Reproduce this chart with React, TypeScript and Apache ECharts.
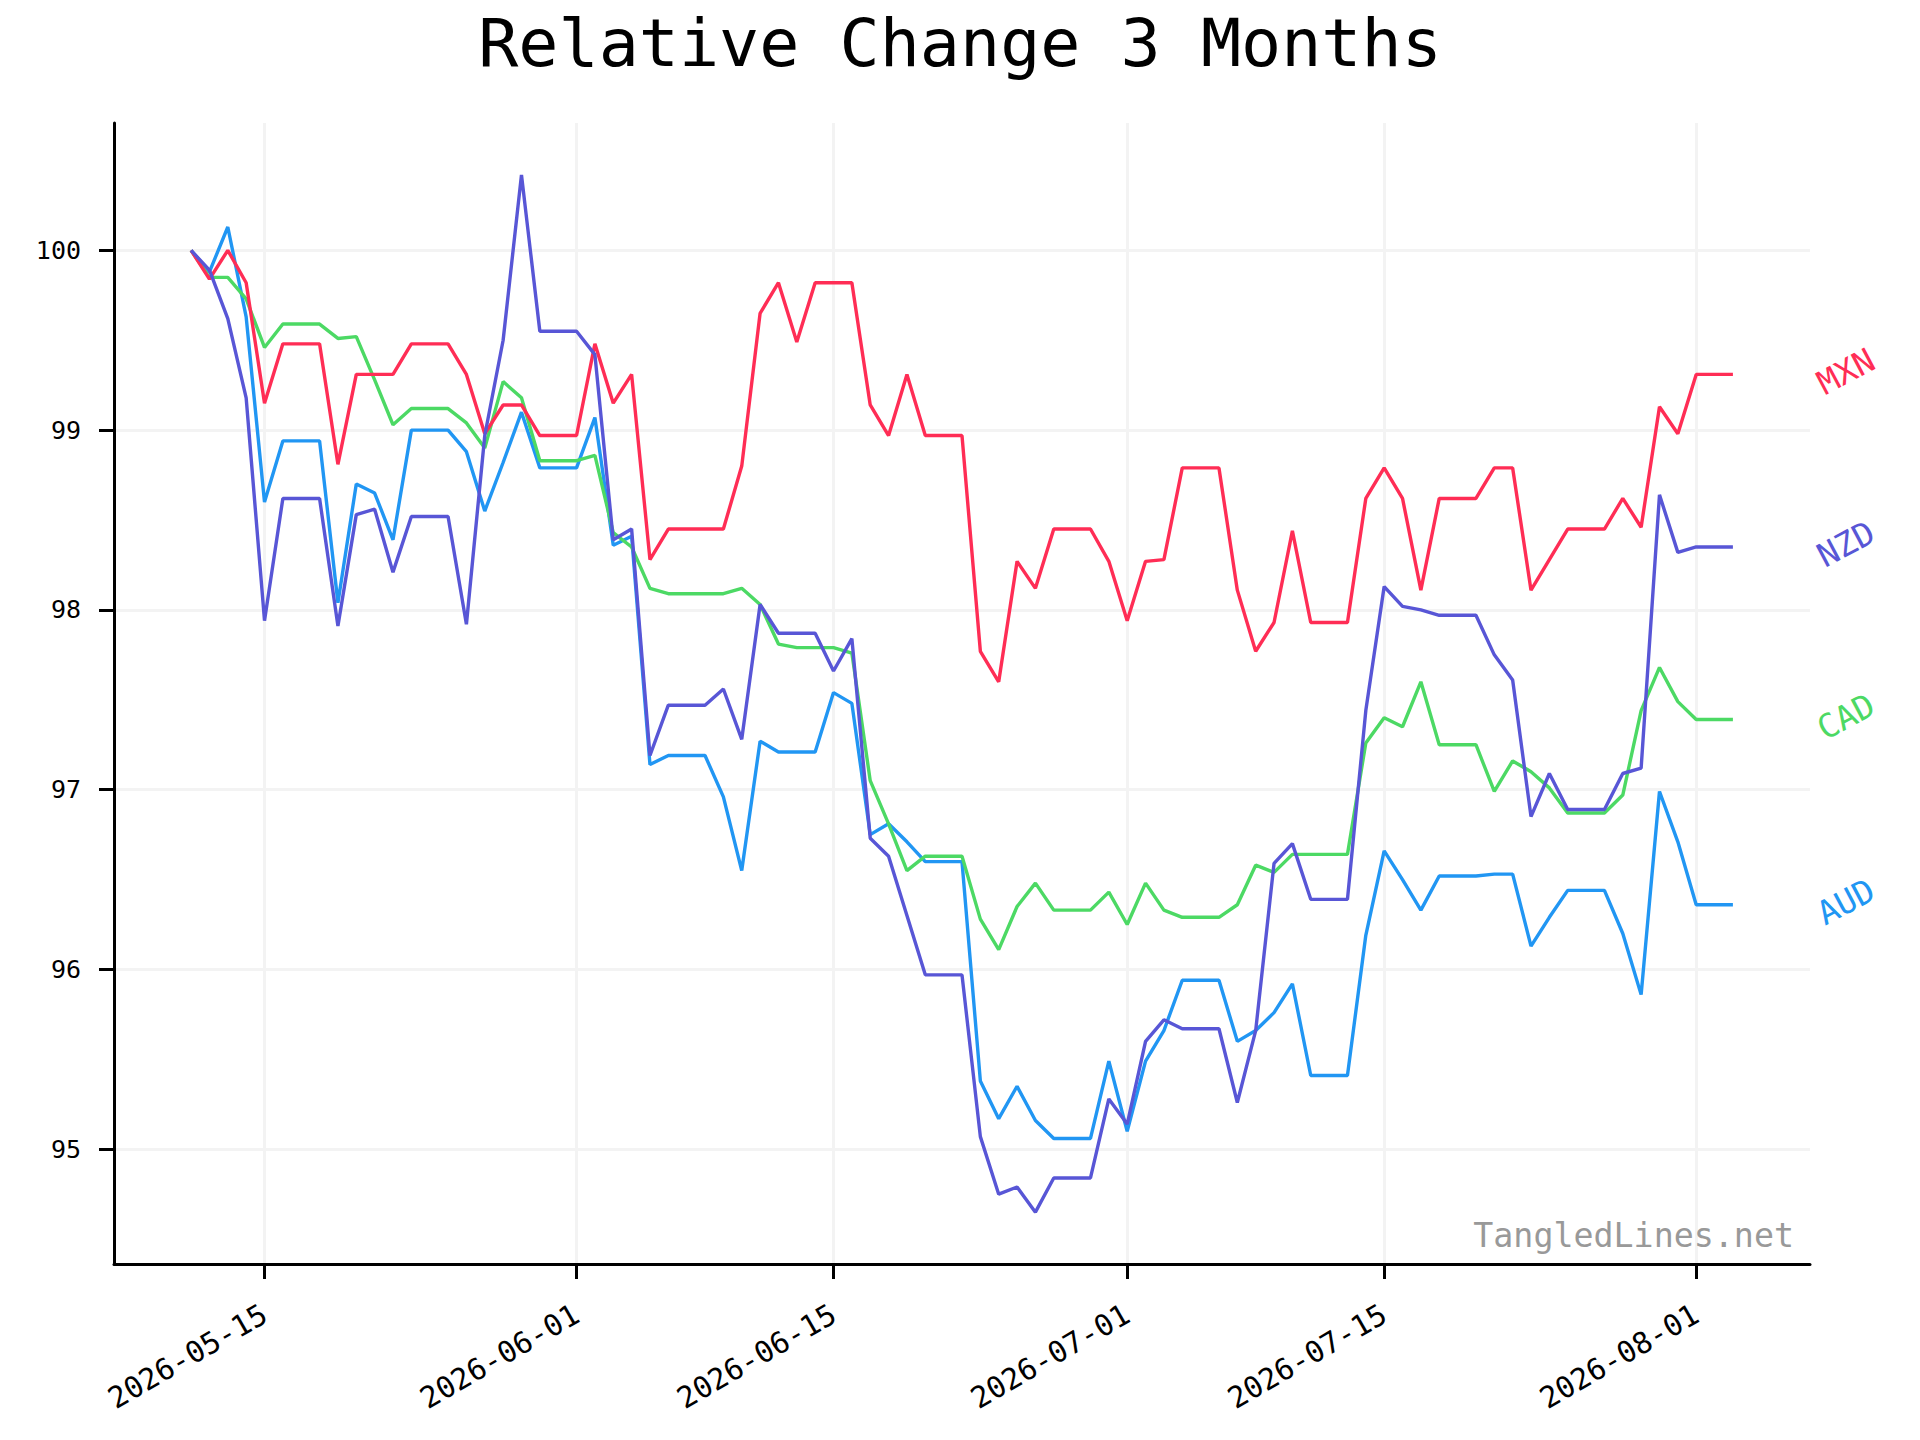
import React, { useEffect, useRef } from "react";
import * as echarts from "echarts";

// ---- data ----
const START_DATE = "2026-05-11";
const DAY_COUNT = 85;
const DAY_MS = 86400000;
const startMs = Date.parse(START_DATE + "T00:00:00Z");
const dates: string[] = Array.from({ length: DAY_COUNT }, (_, i) =>
  new Date(startMs + i * DAY_MS).toISOString().slice(0, 10)
);

const MXN = [
  100, 99.84, 100.0, 99.82, 99.15, 99.48, 99.48, 99.48, 98.81, 99.31,
  99.31, 99.31, 99.48, 99.48, 99.48, 99.31, 98.98, 99.14, 99.14, 98.97,
  98.97, 98.97, 99.48, 99.15, 99.31, 98.28, 98.45, 98.45, 98.45, 98.45,
  98.8, 99.65, 99.82, 99.49, 99.82, 99.82, 99.82, 99.14, 98.97, 99.31,
  98.97, 98.97, 98.97, 97.77, 97.6, 98.27, 98.12, 98.45, 98.45, 98.45,
  98.27, 97.94, 98.27, 98.28, 98.79, 98.79, 98.79, 98.11, 97.77, 97.93,
  98.44, 97.93, 97.93, 97.93, 98.62, 98.79, 98.62, 98.11, 98.62, 98.62,
  98.62, 98.79, 98.79, 98.11, 98.28, 98.45, 98.45, 98.45, 98.62, 98.46,
  99.13, 98.98, 99.31, 99.31, 99.31,
];
const NZD = [
  100, 99.89, 99.62, 99.18, 97.94, 98.62, 98.62, 98.62, 97.91, 98.53,
  98.56, 98.21, 98.52, 98.52, 98.52, 97.92, 98.97, 99.5, 100.42, 99.55,
  99.55, 99.55, 99.42, 98.39, 98.45, 97.19, 97.47, 97.47, 97.47, 97.56,
  97.28, 98.03, 97.87, 97.87, 97.87, 97.66, 97.84, 96.73, 96.63, 96.3,
  95.97, 95.97, 95.97, 95.07, 94.75, 94.79, 94.65, 94.84, 94.84, 94.84,
  95.28, 95.14, 95.6, 95.72, 95.67, 95.67, 95.67, 95.26, 95.66, 96.59,
  96.7, 96.39, 96.39, 96.39, 97.44, 98.13, 98.02, 98.0, 97.97, 97.97,
  97.97, 97.75, 97.61, 96.85, 97.09, 96.89, 96.89, 96.89, 97.09, 97.12,
  98.64, 98.32, 98.35, 98.35, 98.35,
];
const CAD = [
  100, 99.85, 99.85, 99.73, 99.46, 99.59, 99.59, 99.59, 99.51, 99.52,
  99.28, 99.03, 99.12, 99.12, 99.12, 99.04, 98.9, 99.27, 99.18, 98.83,
  98.83, 98.83, 98.86, 98.43, 98.35, 98.12, 98.09, 98.09, 98.09, 98.09,
  98.12, 98.03, 97.81, 97.79, 97.79, 97.79, 97.76, 97.05, 96.81, 96.55,
  96.63, 96.63, 96.63, 96.28, 96.11, 96.35, 96.48, 96.33, 96.33, 96.33,
  96.43, 96.25, 96.48, 96.33, 96.29, 96.29, 96.29, 96.36, 96.58, 96.54,
  96.64, 96.64, 96.64, 96.64, 97.26, 97.4, 97.35, 97.6, 97.25, 97.25,
  97.25, 96.99, 97.16, 97.1, 97.01, 96.87, 96.87, 96.87, 96.97, 97.44,
  97.68, 97.49, 97.39, 97.39, 97.39,
];
const AUD = [
  100, 99.88, 100.13, 99.63, 98.6, 98.94, 98.94, 98.94, 98.04, 98.7,
  98.65, 98.39, 99.0, 99.0, 99.0, 98.88, 98.55, 98.82, 99.1, 98.79,
  98.79, 98.79, 99.07, 98.36, 98.41, 97.14, 97.19, 97.19, 97.19, 96.96,
  96.55, 97.27, 97.21, 97.21, 97.21, 97.54, 97.48, 96.75, 96.81, 96.71,
  96.6, 96.6, 96.6, 95.38, 95.17, 95.35, 95.16, 95.06, 95.06, 95.06,
  95.49, 95.1, 95.49, 95.66, 95.94, 95.94, 95.94, 95.6, 95.66, 95.76,
  95.92, 95.41, 95.41, 95.41, 96.19, 96.66, 96.5, 96.33, 96.52, 96.52,
  96.52, 96.53, 96.53, 96.13, 96.29, 96.44, 96.44, 96.44, 96.2, 95.86,
  96.99, 96.71, 96.36, 96.36, 96.36,
];

const X_TICK_LABELS = ["2026-05-15", "2026-06-01", "2026-06-15", "2026-07-01", "2026-07-15", "2026-08-01"];
const Y_TICKS = [95, 96, 97, 98, 99, 100];

const SERIES = [
  { name: "AUD", data: AUD, color: "#2196F3" },
  { name: "CAD", data: CAD, color: "#4CD964" },
  { name: "MXN", data: MXN, color: "#FF2D55" },
  { name: "NZD", data: NZD, color: "#5856D6" },
];

const TITLE = "Relative Change 3 Months";
const WATERMARK = "TangledLines.net";

const FONT = "'DejaVu Sans Mono', monospace";

const toMs = (d: string) => Date.parse(d + "T00:00:00Z");
const fmt = (v: number) => new Date(v).toISOString().slice(0, 10);

export default function App() {
  const ref = useRef<HTMLDivElement>(null);

  useEffect(() => {
    document.body.style.margin = "0";
    if (!ref.current) return;
    const chart = echarts.init(ref.current, null, { renderer: "svg" });

    const xs = dates.map(toMs);
    const x0 = xs[0];
    const x1 = xs[xs.length - 1];
    const xPad = (x1 - x0) * 0.05;
    const all = SERIES.flatMap((s) => s.data);
    const yLo = Math.min(...all);
    const yHi = Math.max(...all);
    const yPad = (yHi - yLo) * 0.05;

    const gridLeft = 114;
    const gridTop = 123;
    const gridW = 1696;
    const gridH = 1141;

    const option: any = {
      animation: false,
      backgroundColor: "#ffffff",
      title: {
        text: TITLE,
        left: "center",
        top: 4,
        textStyle: { fontFamily: FONT, fontSize: 66.7, fontWeight: "normal", color: "#000" },
      },
      grid: {
        left: gridLeft,
        top: gridTop,
        width: gridW,
        height: gridH,
        containLabel: false,
        outerBoundsMode: "none",
      },
      xAxis: {
        type: "value",
        min: x0 - xPad,
        max: x1 + xPad,
        axisLine: { show: true, onZero: false, lineStyle: { color: "#000", width: 3 } },
        axisTick: {
          show: true,
          length: 15,
          customValues: X_TICK_LABELS.map(toMs),
          lineStyle: { color: "#000", width: 3 },
        },
        axisLabel: {
          customValues: X_TICK_LABELS.map(toMs),
          formatter: (v: number) => fmt(v),
          rotate: 30,
          margin: 48,
          fontFamily: FONT,
          fontSize: 29.5,
          color: "#000",
        },
        splitLine: { show: true, lineStyle: { color: "#f3f3f3", width: 3 } },
      },
      yAxis: {
        type: "value",
        min: yLo - yPad,
        max: yHi + yPad,
        axisLine: { show: true, onZero: false, lineStyle: { color: "#000", width: 3 } },
        axisTick: {
          show: true,
          length: 15,
          customValues: Y_TICKS,
          lineStyle: { color: "#000", width: 3 },
        },
        axisLabel: {
          customValues: Y_TICKS,
          margin: 33,
          fontFamily: FONT,
          fontSize: 25,
          color: "#000",
        },
        splitLine: { show: true, lineStyle: { color: "#f3f3f3", width: 3 } },
      },
      series: SERIES.map((s) => ({
        name: s.name,
        type: "line",
        data: s.data.map((v, i) => [xs[i], v]),
        showSymbol: false,
        symbol: "none",
        lineStyle: { color: s.color, width: 3.4 },
        itemStyle: { color: s.color },
        emphasis: { disabled: true },
        z: 3,
      })),
    };

    chart.setOption(option);

    const labels = SERIES.map((s) => {
      const last = s.data[s.data.length - 1];
      const [px, py] = chart.convertToPixel({ gridIndex: 0 }, [x1, last]) as number[];
      return {
        type: "text",
        x: px + 113,
        y: py - 3,
        rotation: (28 * Math.PI) / 180,
        style: {
          text: s.name,
          fill: s.color,
          font: `33px ${FONT}`,
          align: "center",
          verticalAlign: "middle",
          textAlign: "center",
          textVerticalAlign: "middle",
        },
      };
    });

    chart.setOption({
      graphic: [
        ...labels,
        {
          type: "text",
          x: gridLeft + gridW - 16,
          y: 1235,
          style: {
            text: WATERMARK,
            fill: "#999999",
            font: `33.3px ${FONT}`,
            align: "right",
            verticalAlign: "middle",
            textAlign: "right",
            textVerticalAlign: "middle",
          },
        },
      ],
    });

    return () => chart.dispose();
  }, []);

  return <div ref={ref} style={{ width: 1920, height: 1440 }} />;
}
